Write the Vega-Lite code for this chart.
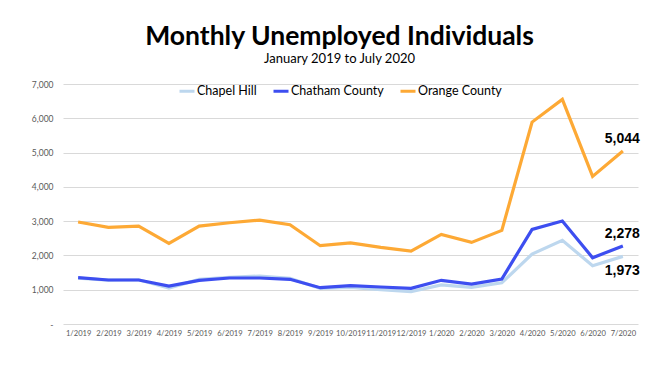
{
  "$schema": "https://vega.github.io/schema/vega-lite/v6.json",
  "width": 575,
  "height": 240,
  "autosize": "none",
  "padding": {"left": 63, "top": 84, "right": 32, "bottom": 55},
  "background": "white",
  "title": {
    "text": "Monthly Unemployed Individuals",
    "subtitle": "January 2019 to July 2020",
    "font": "Lato",
    "fontSize": 26.5,
    "fontWeight": "bold",
    "color": "black",
    "subtitleFont": "Lato",
    "subtitleFontSize": 13,
    "subtitleColor": "black",
    "subtitlePadding": 3,
    "anchor": "middle",
    "dx": -11,
    "offset": 14
  },
  "config": {
    "view": {"stroke": null},
    "font": "Lato"
  },
  "datasets": {
    "series": [
      {"month": "1/2019", "area": "Chapel Hill", "value": 1340},
      {"month": "2/2019", "area": "Chapel Hill", "value": 1280},
      {"month": "3/2019", "area": "Chapel Hill", "value": 1290},
      {"month": "4/2019", "area": "Chapel Hill", "value": 1050},
      {"month": "5/2019", "area": "Chapel Hill", "value": 1300},
      {"month": "6/2019", "area": "Chapel Hill", "value": 1360},
      {"month": "7/2019", "area": "Chapel Hill", "value": 1400},
      {"month": "8/2019", "area": "Chapel Hill", "value": 1330},
      {"month": "9/2019", "area": "Chapel Hill", "value": 1040},
      {"month": "10/2019", "area": "Chapel Hill", "value": 1070},
      {"month": "11/2019", "area": "Chapel Hill", "value": 1000},
      {"month": "12/2019", "area": "Chapel Hill", "value": 945},
      {"month": "1/2020", "area": "Chapel Hill", "value": 1140},
      {"month": "2/2020", "area": "Chapel Hill", "value": 1070},
      {"month": "3/2020", "area": "Chapel Hill", "value": 1200},
      {"month": "4/2020", "area": "Chapel Hill", "value": 2040},
      {"month": "5/2020", "area": "Chapel Hill", "value": 2440},
      {"month": "6/2020", "area": "Chapel Hill", "value": 1700},
      {"month": "7/2020", "area": "Chapel Hill", "value": 1973},
      {"month": "1/2019", "area": "Chatham County", "value": 1350},
      {"month": "2/2019", "area": "Chatham County", "value": 1283},
      {"month": "3/2019", "area": "Chatham County", "value": 1283},
      {"month": "4/2019", "area": "Chatham County", "value": 1108},
      {"month": "5/2019", "area": "Chatham County", "value": 1274},
      {"month": "6/2019", "area": "Chatham County", "value": 1341},
      {"month": "7/2019", "area": "Chatham County", "value": 1341},
      {"month": "8/2019", "area": "Chatham County", "value": 1303},
      {"month": "9/2019", "area": "Chatham County", "value": 1059},
      {"month": "10/2019", "area": "Chatham County", "value": 1117},
      {"month": "11/2019", "area": "Chatham County", "value": 1079},
      {"month": "12/2019", "area": "Chatham County", "value": 1040},
      {"month": "1/2020", "area": "Chatham County", "value": 1274},
      {"month": "2/2020", "area": "Chatham County", "value": 1166},
      {"month": "3/2020", "area": "Chatham County", "value": 1312},
      {"month": "4/2020", "area": "Chatham County", "value": 2761},
      {"month": "5/2020", "area": "Chatham County", "value": 3003},
      {"month": "6/2020", "area": "Chatham County", "value": 1933},
      {"month": "7/2020", "area": "Chatham County", "value": 2278},
      {"month": "1/2019", "area": "Orange County", "value": 2974},
      {"month": "2/2019", "area": "Orange County", "value": 2819},
      {"month": "3/2019", "area": "Orange County", "value": 2857},
      {"month": "4/2019", "area": "Orange County", "value": 2352},
      {"month": "5/2019", "area": "Orange County", "value": 2857},
      {"month": "6/2019", "area": "Orange County", "value": 2954},
      {"month": "7/2019", "area": "Orange County", "value": 3032},
      {"month": "8/2019", "area": "Orange County", "value": 2896},
      {"month": "9/2019", "area": "Orange County", "value": 2284},
      {"month": "10/2019", "area": "Orange County", "value": 2366},
      {"month": "11/2019", "area": "Orange County", "value": 2236},
      {"month": "12/2019", "area": "Orange County", "value": 2128},
      {"month": "1/2020", "area": "Orange County", "value": 2614},
      {"month": "2/2020", "area": "Orange County", "value": 2381},
      {"month": "3/2020", "area": "Orange County", "value": 2731},
      {"month": "4/2020", "area": "Orange County", "value": 5889},
      {"month": "5/2020", "area": "Orange County", "value": 6551},
      {"month": "6/2020", "area": "Orange County", "value": 4306},
      {"month": "7/2020", "area": "Orange County", "value": 5044}
    ]
  },
  "data": {"name": "series"},
  "encoding": {
    "x": {
      "field": "month",
      "type": "ordinal",
      "sort": null,
      "scale": {"type": "point", "padding": 0.5},
      "axis": {
        "title": null,
        "labelAngle": 0,
        "labelFont": "Lato",
        "labelFontSize": 7.6,
        "labelColor": "#595959",
        "labelPadding": 5,
        "labelOverlap": false,
        "domain": false,
        "ticks": false,
        "grid": false
      }
    },
    "y": {
      "field": "value",
      "type": "quantitative",
      "scale": {"domain": [0, 7000], "nice": false},
      "axis": {
        "title": null,
        "values": [0, 1000, 2000, 3000, 4000, 5000, 6000, 7000],
        "labelExpr": "datum.value === 0 ? '-' : format(datum.value, ',')",
        "labelFont": "Lato",
        "labelFontSize": 8.5,
        "labelColor": "#595959",
        "labelPadding": 10,
        "domain": false,
        "ticks": false,
        "gridColor": "#d9d9d9",
        "gridWidth": 1
      }
    }
  },
  "layer": [
    {
      "mark": {"type": "line", "strokeWidth": 3.2, "strokeJoin": "miter", "strokeCap": "butt"},
      "encoding": {
        "color": {
          "field": "area",
          "type": "nominal",
          "scale": {
            "domain": ["Chapel Hill", "Chatham County", "Orange County"],
            "range": ["#bdd7ee", "#3d4ef0", "#fda935"]
          },
          "legend": {
            "title": null,
            "orient": "none",
            "direction": "horizontal",
            "legendX": 115,
            "legendY": -2,
            "symbolType": "stroke",
            "symbolSize": 225,
            "symbolStrokeWidth": 3,
            "labelFont": "Lato",
            "labelFontSize": 12.5,
            "labelColor": "black",
            "labelOffset": 1,
            "columnPadding": 10
          }
        }
      }
    },
    {
      "transform": [{"filter": "datum.month === '7/2020' && datum.area !== 'Chapel Hill'"}],
      "mark": {"type": "text", "align": "right", "baseline": "middle", "dx": 17, "dy": -12, "font": "Liberation Sans", "fontWeight": "bold", "fontSize": 14, "color": "black"},
      "encoding": {"text": {"field": "value", "type": "quantitative", "format": ","}}
    },
    {
      "transform": [{"filter": "datum.month === '7/2020' && datum.area === 'Chapel Hill'"}],
      "mark": {"type": "text", "align": "right", "baseline": "middle", "dx": 17, "dy": 15, "font": "Liberation Sans", "fontWeight": "bold", "fontSize": 14, "color": "black"},
      "encoding": {"text": {"field": "value", "type": "quantitative", "format": ","}}
    }
  ]
}
